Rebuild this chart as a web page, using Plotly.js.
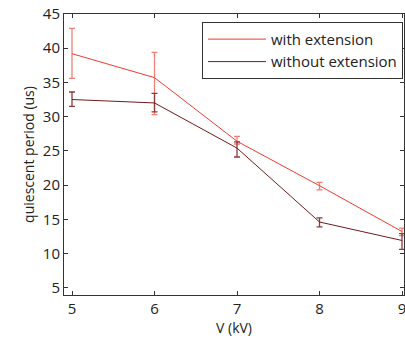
<!DOCTYPE html>
<html><head><meta charset="utf-8">
<script src="https://cdn.plot.ly/plotly-3.0.1.min.js"></script>
<style>html,body{margin:0;padding:0;background:#fff}#chart{width:405px;height:339px}</style>
</head><body><div id="chart"></div>
<script>
const voltage = [5, 6, 7, 8, 9];
const withExt = [39.2, 35.7, 26.4, 19.9, 13.2];
const withExtUp = [3.7, 3.7, 0.7, 0.5, 0.5];
const withExtDown = [3.6, 5.4, 0.4, 0.6, 0.6];
const withoutExt = [32.5, 32.0, 25.4, 14.6, 11.9];
const withoutExtUp = [1.1, 1.4, 0.9, 0.6, 1.0];
const withoutExtDown = [1.0, 1.3, 1.3, 0.7, 1.3];
const xTicks = [5, 6, 7, 8, 9];
const yTicks = [5, 10, 15, 20, 25, 30, 35, 40, 45];

const fam = 'Open Sans, DejaVu Sans, sans-serif';
const font = {family: fam, size: 15, color: '#222'};
const titleFont = {family: fam, size: 14, color: '#222'};
const traces = [
  {x: voltage, y: withExt, name: 'with extension', type: 'scatter', mode: 'lines',
   line: {color: '#ee3b2e', width: 1},
   error_y: {type: 'data', symmetric: false, array: withExtUp, arrayminus: withExtDown,
             color: '#f08078', thickness: 1.3, width: 3}},
  {x: voltage, y: withoutExt, name: 'without extension', type: 'scatter', mode: 'lines',
   line: {color: '#6e1c1c', width: 1},
   error_y: {type: 'data', symmetric: false, array: withoutExtUp, arrayminus: withoutExtDown,
             color: '#8c3a3a', thickness: 1.3, width: 3}}
];
const axisCommon = {showgrid: false, zeroline: false, showline: true, linecolor: '#333', linewidth: 1,
  mirror: 'ticks', ticks: 'inside', ticklen: 4, tickcolor: '#333', tickfont: font,
  ticklabeloverflow: 'allow'};
const layout = {
  width: 405, height: 339,
  margin: {l: 64, r: 1, t: 14, b: 44},
  paper_bgcolor: '#fff', plot_bgcolor: '#fff',
  font: font,
  xaxis: Object.assign({}, axisCommon, {range: [4.903, 9.024], tickvals: xTicks, ticktext: xTicks.map(String),
    title: {text: 'V (kV)', font: titleFont, standoff: 2}}),
  yaxis: Object.assign({}, axisCommon, {range: [3.93, 45], tickvals: yTicks, ticktext: yTicks.map(String),
    title: {text: 'quiescent period (us)', font: titleFont, standoff: 4}}),
  showlegend: true,
  legend: {x: 0.997, xanchor: 'right', y: 0.972, yanchor: 'top', bgcolor: '#fff',
    bordercolor: '#333', borderwidth: 1, itemwidth: 58,
    font: {family: fam, size: 15, color: '#222'}, tracegroupgap: 0}
};
Plotly.newPlot('chart', traces, layout, {staticPlot: true, displayModeBar: false});
</script></body></html>
